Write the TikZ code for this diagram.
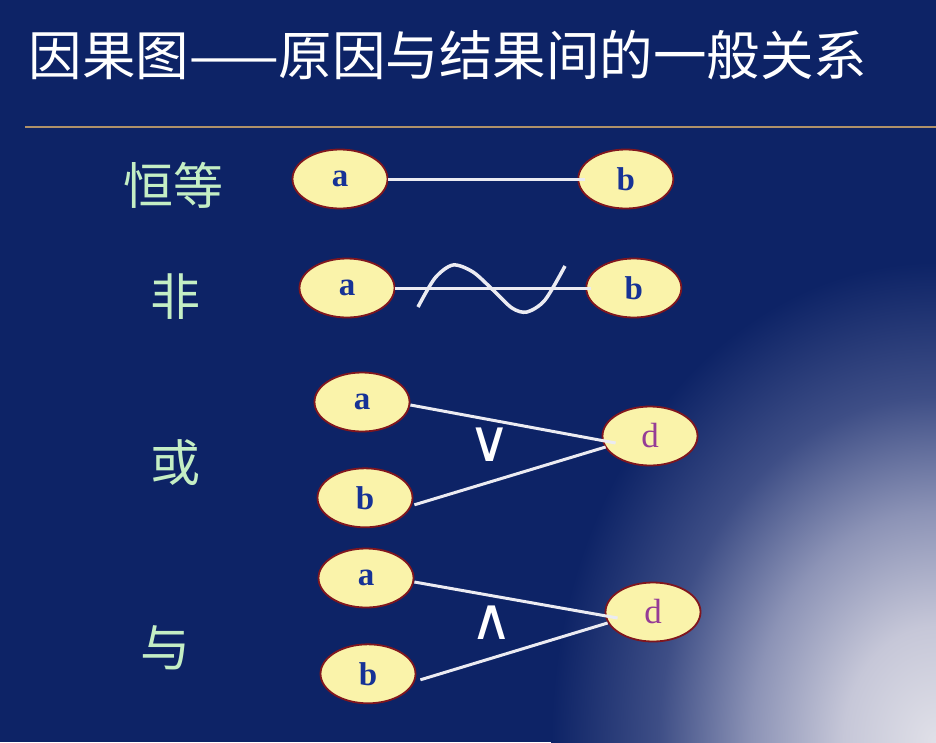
\documentclass[tikz,border=0pt]{standalone}
\usepackage{fontspec}
\newfontfamily\cjkfont{Noto Sans CJK SC}
\newfontfamily\labfont{Liberation Serif}
\newfontfamily\symfont{DejaVu Sans}
\usepackage{tikz}
\usetikzlibrary{shapes.geometric,positioning,calc}

\definecolor{slide}{RGB}{13,35,102}
\definecolor{glowA}{RGB}{224,224,232}
\definecolor{glowB}{RGB}{198,199,216}
\definecolor{glowC}{RGB}{140,147,182}
\definecolor{glowD}{RGB}{62,78,134}
\definecolor{rule}{RGB}{175,145,105}
\definecolor{relgreen}{RGB}{196,238,196}
\definecolor{nodefill}{RGB}{250,243,170}
\definecolor{rimred}{RGB}{128,22,30}
\definecolor{abblue}{RGB}{22,50,150}
\definecolor{dpurple}{RGB}{150,60,150}
\definecolor{linkwhite}{RGB}{235,235,242}

\pgfdeclareradialshading{glow}{\pgfpoint{0bp}{0bp}}{color(0bp)=(glowA); color(6bp)=(glowB); color(12bp)=(glowC); color(18bp)=(glowD); color(25bp)=(slide); color(50bp)=(slide)}

\begin{document}
\begin{tikzpicture}[x=1pt, y=-1pt,
    cause/.style={ellipse, draw=rimred, line width=1.8pt, fill=nodefill,
      minimum width=95pt, minimum height=59pt, inner sep=0pt, text=abblue,
      font=\labfont\bfseries\fontsize{33pt}{33pt}\selectfont},
    effect/.style={cause, text=dpurple, font=\labfont\fontsize{35pt}{35pt}\selectfont},
    rel/.style={text=relgreen, font=\cjkfont\fontsize{50pt}{50pt}\selectfont},
    op/.style={text=white, font=\symfont\fontsize{58pt}{58pt}\selectfont},
    link/.style={draw=linkwhite, line width=3pt}]

  % background
  \useasboundingbox (0,0) rectangle (936,742);
  \fill[slide] (0,0) rectangle (936,742);
  \begin{scope}
    \clip (0,0) rectangle (936,742);
    \shade[shading=glow] (936,742) ellipse [x radius=385, y radius=480];
  \end{scope}

  % title
  \node[anchor=west, text=white, font=\cjkfont\fontsize{53.5pt}{53.5pt}\selectfont]
    (title) at (25,55) {因果图——原因与结果间的一般关系};
  \coordinate (ruleL) at (25,127);
  \coordinate (ruleR) at (936,127);
  \draw[rule, line width=1.5pt] (ruleL) -- (ruleR);

  % Define nodes
  \node[rel] (eq)  at (173,185) {恒等};
  \node[rel] (neg) at (175,297) {非};
  \node[rel] (or)  at (175,463) {或};
  \node[rel] (and) at (165,648) {与};

  \node[cause]                    (a1) at (340,179) {a};
  \node[cause, right=189pt of a1] (b1) {b};

  \node[cause]                    (a2) at (347,288) {a};
  \node[cause, right=190pt of a2] (b2) {b};

  \node[cause]                               (a3) at (362,402) {a};
  \node[cause, below=35pt of a3, xshift=3pt] (b3) {b};
  \node[effect]                              (d3) at (650,436) {d};

  \node[cause]                               (a4) at (366,578) {a};
  \node[cause, below=35pt of a4, xshift=2pt] (b4) {b};
  \node[effect]                              (d4) at (653,612) {d};

  \node[op] (vee)   at (490,445) {∨};
  \node[op] (wedge) at (492,623) {∧};

  % links
  \draw[link] (a1.east) -- ($(b1.west)+(8,0)$);
  \draw[link] (a2.east) -- ($(b2.west)+(6,0)$);
  \draw[linkwhite, line width=3.5pt] plot[smooth] coordinates
    {(418,307) (435,278) (453,265) (473,272) (493,290) (512,308) (527,312) (545,300) (565,266)};

  \draw[link] ($(a3.east)+(0,3)$) -- ($(d3.west)+(14,7)$);
  \draw[link] ($(b3.east)+(1,7)$) -- ($(d3.west)+(4,11)$);

  \draw[link] ($(a4.east)+(0,4)$) -- ($(d4.west)+(13,6)$);
  \draw[link] ($(b4.east)+(4,6)$) -- ($(d4.west)+(3,11)$);

\end{tikzpicture}
\end{document}
